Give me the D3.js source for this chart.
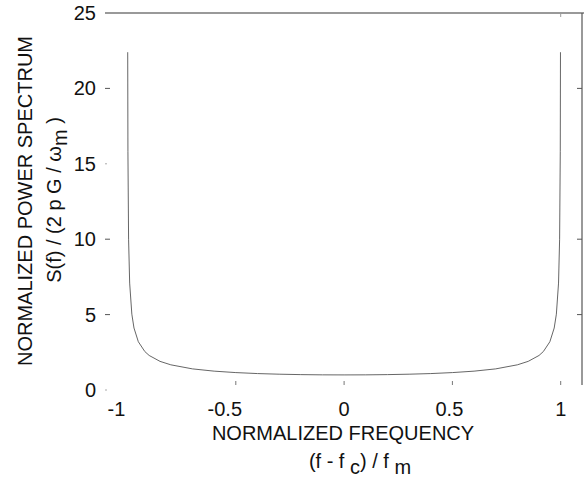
<!DOCTYPE html>
<html><head><meta charset="utf-8">
<script src="https://cdn.jsdelivr.net/npm/d3@7"></script>
<style>
html,body{margin:0;padding:0;background:#fff;}
svg{display:block;font-family:"Liberation Sans",Arial,Helvetica,sans-serif;}
</style></head>
<body>
<svg id="c" width="584" height="480"></svg>
<script>
// Data
const freq = [-0.999, -0.998, -0.995, -0.99, -0.98, -0.97, -0.95, -0.92, -0.9, -0.85, -0.8, -0.7, -0.6, -0.5, -0.4, -0.3, -0.2, -0.1, 0,
              0.1, 0.2, 0.3, 0.4, 0.5, 0.6, 0.7, 0.8, 0.85, 0.9, 0.92, 0.95, 0.97, 0.98, 0.99, 0.995, 0.998, 0.999];
const power = [22.4, 15.8, 10.0, 7.09, 5.03, 4.11, 3.20, 2.55, 2.29, 1.90, 1.67, 1.40, 1.25, 1.155, 1.09, 1.048, 1.02, 1.005, 1.0,
               1.005, 1.02, 1.048, 1.09, 1.155, 1.25, 1.40, 1.67, 1.90, 2.29, 2.55, 3.20, 4.11, 5.03, 7.09, 10.0, 15.8, 22.4];
const xTicks = [-1, -0.5, 0, 0.5, 1];
const xTickLabels = ["-1", "-0.5", "0", "0.5", "1"];
const yTicks = [0, 5, 10, 15, 20, 25];
const yTickLabels = ["0", "5", "10", "15", "20", "25"];
const rightTicks = [5, 10, 20];

const svg = d3.select("#c");
const x = d3.scaleLinear().domain([-1, 1]).range([127.5, 560.7]);
const y = d3.scaleLinear().domain([0, 25]).range([390, 13]);
const axisCol = "#555";

// top border
svg.append("line").attr("x1", 105).attr("x2", 584).attr("y1", y(25)).attr("y2", y(25))
  .attr("stroke", "#777").attr("stroke-width", 1.3);
// right border
svg.append("line").attr("x1", 582).attr("x2", 582).attr("y1", y(25)).attr("y2", 385)
  .attr("stroke", axisCol).attr("stroke-width", 1.2);
// right ticks
svg.selectAll(".rt").data(rightTicks).enter().append("line")
  .attr("x1", 577).attr("x2", 582).attr("y1", d => y(d)).attr("y2", d => y(d))
  .attr("stroke", axisCol).attr("stroke-width", 1);
// left ticks
svg.selectAll(".lt").data(yTicks.filter(d => d < 25)).enter().append("line")
  .attr("x1", 105).attr("x2", d => (d === 0 || d === 15) ? 107 : 110)
  .attr("y1", d => y(d)).attr("y2", d => y(d))
  .attr("stroke", d => (d === 0 || d === 15) ? "#aaa" : axisCol).attr("stroke-width", 1);
// y labels
svg.selectAll(".yl").data(yTicks).enter().append("text")
  .attr("x", 96).attr("y", d => y(d) + 7).attr("text-anchor", "end")
  .attr("font-size", 20).attr("fill", "#111")
  .text((d, i) => yTickLabels[i]);
// bottom ticks
svg.selectAll(".bt").data(xTicks.filter(d => d > -1)).enter().append("line")
  .attr("x1", d => x(d)).attr("x2", d => x(d)).attr("y1", 381).attr("y2", 385)
  .attr("stroke", "#777").attr("stroke-width", 1);
// top tick at 1
svg.append("line").attr("x1", x(1)).attr("x2", x(1)).attr("y1", y(25)).attr("y2", y(25) + 4)
  .attr("stroke", "#999").attr("stroke-width", 1);
// x labels
svg.selectAll(".xl").data(xTicks).enter().append("text")
  .attr("x", d => x(d) + (d < 0 ? -11 : (d > 0 && d < 1 ? -3 : 0)))
  .attr("y", 416).attr("text-anchor", "middle")
  .attr("font-size", 20).attr("fill", "#111")
  .text((d, i) => xTickLabels[i]);

// curve
const line = d3.line().x((d, i) => x(freq[i])).y(d => y(d));
svg.append("path").datum(power).attr("d", line)
  .attr("fill", "none").attr("stroke", "#555").attr("stroke-width", 0.9);

// x title
svg.append("text").attr("x", 343).attr("y", 440).attr("text-anchor", "middle")
  .attr("font-size", 20).attr("fill", "#111").text("NORMALIZED FREQUENCY");
const xt2 = svg.append("text").attr("x", 360).attr("y", 468).attr("text-anchor", "middle")
  .attr("font-size", 20).attr("fill", "#111");
xt2.append("tspan").text("(f - f ");
xt2.append("tspan").attr("dy", 6).text("c");
xt2.append("tspan").attr("dy", -6).text(") / f ");
xt2.append("tspan").attr("dy", 6).text("m");

// y title
svg.append("text").attr("transform", "translate(31.5,201) rotate(-90)")
  .attr("text-anchor", "middle").attr("font-size", 20).attr("fill", "#111")
  .text("NORMALIZED POWER SPECTRUM");
const yt2 = svg.append("text").attr("transform", "translate(61,200) rotate(-90)")
  .attr("text-anchor", "middle").attr("font-size", 20).attr("fill", "#111");
yt2.append("tspan").text("S(f) / (2 p G / ω");
yt2.append("tspan").attr("dy", 6).text("m");
yt2.append("tspan").attr("dy", -6).text("  )");
</script>
</body></html>
